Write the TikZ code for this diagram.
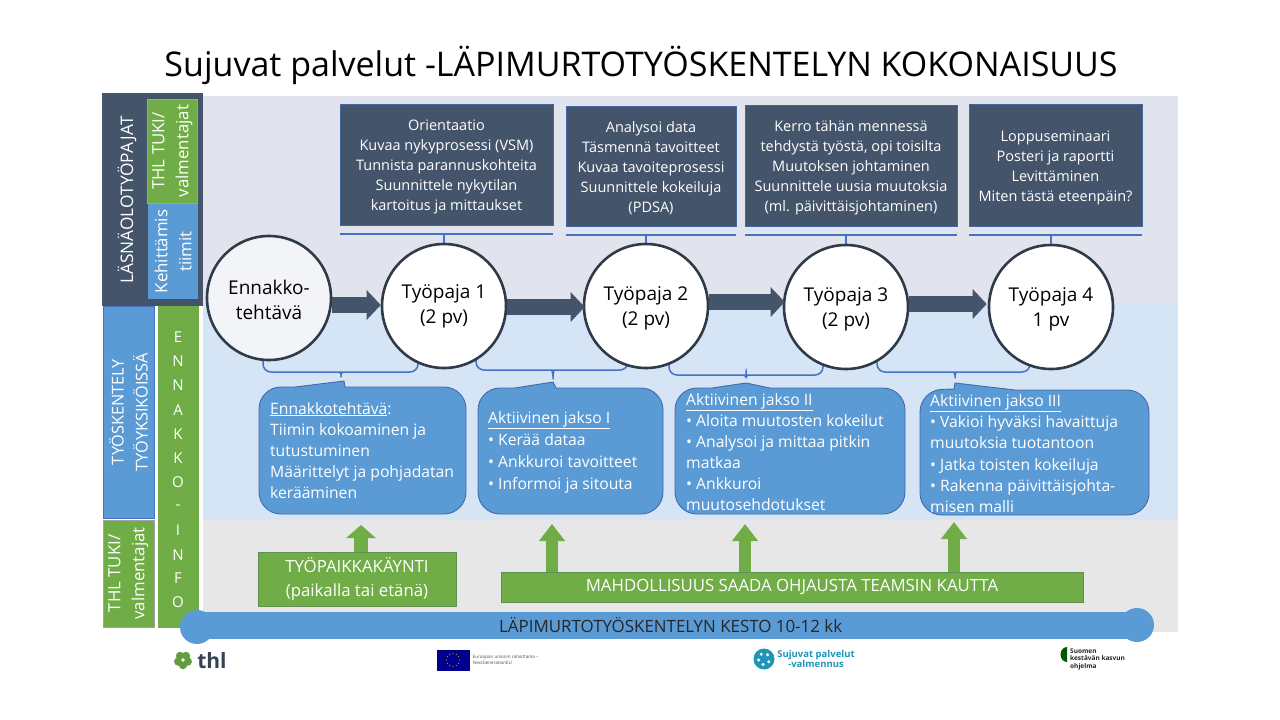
\documentclass[tikz,border=0pt]{standalone}
\usepackage{fontspec}
\setmainfont{Open Sans}
\usetikzlibrary{arrows.meta,positioning}
\definecolor{darkslate}{HTML}{44546A}
\definecolor{midblue}{HTML}{5B9BD5}
\definecolor{linkblue}{HTML}{4472C4}
\definecolor{leaf}{HTML}{70AD47}
\definecolor{palegrey}{HTML}{E1E4EC}
\definecolor{paleblue}{HTML}{D6E5F5}
\definecolor{lightgrey}{HTML}{E7E7E7}
\definecolor{sujuteal}{HTML}{1E96B8}
\newcommand{\bracket}[5]{\draw[brace] (#1,350) |- (#4-8,#3) .. controls (#4-2,#3) and (#4,#3+3) .. (#4,#5) .. controls (#4,#3+3) and (#4+2,#3) .. (#4+8,#3) -| (#2,350);}
\newcommand{\lowerws}[1]{\rule{0pt}{#1pt}}
\tikzset{
  sidebox/.style={text=white,align=center,anchor=center,inner sep=0,font=\fontsize{16.8}{24}\selectfont},
  topbox/.style={fill=darkslate,draw=linkblue!60!darkslate,line width=.6,text=white,align=center,inner sep=0,font=\fontsize{14.5}{20}\selectfont},
  ws/.style={circle,draw=darkslate!70!black,line width=2.6,fill=white,minimum size=124,inner sep=0,align=center,font=\fontsize{19}{25}\selectfont},
  flowline/.style={draw=darkslate,line width=16,-{Triangle[length=14pt,width=29pt]}},
  upline/.style={draw=leaf,line width=12,-{Triangle[length=17pt,width=25pt]}},
  callout/.style={fill=midblue,draw=linkblue!70!darkslate,line width=.9},
  calltext/.style={text=white,align=left,anchor=north west,inner sep=0,font=\fontsize{15.7}{#1}\selectfont},
  brace/.style={draw=linkblue,line width=1.5,rounded corners=8},
  rule/.style={draw=linkblue,line width=1.2},
  greenbox/.style={fill=leaf,draw=leaf!65!darkslate,line width=.8,text=white,align=center,inner sep=0,font=\fontsize{16.8}{24}\selectfont},
}
\begin{document}
\begin{tikzpicture}[x=1pt,y=-1pt]
  \useasboundingbox[fill=white] (0,0) rectangle (1280,720);

  \node[font=\fontsize{34}{40}\selectfont] (title) at (641,65) {Sujuvat palvelut -LÄPIMURTOTYÖSKENTELYN KOKONAISUUS};

  % bands
  \fill[palegrey] (203,96) rectangle (1178,303);
  \fill[paleblue] (203,303) rectangle (1178,520);
  \fill[lightgrey] (203,520) rectangle (1178,632);

  % left column
  \node[fill=darkslate,minimum width=101,minimum height=213,inner sep=0] (side) at (152.5,199.5) {};
  \node[sidebox,rotate=90,font=\fontsize{17.3}{24}\selectfont] (lasna) at (127,200) {LÄSNÄOLOTYÖPAJAT};
  \node[sidebox,fill=leaf,draw=lightgrey!70!black,line width=.6,minimum width=104,minimum height=50,rotate=90] (thlA) at (172.5,151) {THL TUKI/\\valmentajat};
  \node[sidebox,fill=midblue,minimum width=95,minimum height=50,rotate=90] (kehit) at (173,251.5) {Kehittämis\\tiimit};
  \node[sidebox,fill=midblue,draw=linkblue,line width=.6,minimum width=212,minimum height=51,rotate=90,font=\fontsize{16.3}{24}\selectfont] (tyosk) at (128.5,412) {TYÖSKENTELY\\TYÖYKSIKÖISSÄ};
  \node[sidebox,fill=leaf,draw=lightgrey!70!black,line width=.6,minimum width=107,minimum height=51,rotate=90] (thlB) at (128.5,573.5) {THL TUKI/\\valmentajat};
  \node[fill=leaf,minimum width=41,minimum height=322,inner sep=0] (info) at (178.5,467) {};
  \foreach \ch/\yy in {E/337,N/361,N/385,A/410,K/434,K/458,O/482,-/507,I/530,N/555,F/578,O/602}
    \node[text=white,font=\fontsize{15}{16}\selectfont] (info\yy) at (178,\yy) {\ch};

  % info boxes
  \node[topbox,minimum width=213,minimum height=121] (boxA) at (446.5,164.5) {\lowerws{16}Orientaatio\\Kuvaa nykyprosessi (VSM)\\Tunnista parannuskohteita\\Suunnittele nykytilan\\kartoitus ja mittaukset};
  \node[topbox,minimum width=170,minimum height=120] (boxB) at (651,166) {\lowerws{16}Analysoi data\\Täsmennä tavoitteet\\Kuvaa tavoiteprosessi\\Suunnittele kokeiluja\\(PDSA)};
  \node[topbox,minimum width=212,minimum height=121] (boxC) at (851,165.5) {\lowerws{16}Kerro tähän mennessä\\tehdystä työstä, opi toisilta\\Muutoksen johtaminen\\Suunnittele uusia muutoksia\\(ml. päivittäisjohtaminen)};
  \node[topbox,minimum width=173,minimum height=122] (boxD) at (1055.5,165) {\lowerws{16}Loppuseminaari\\Posteri ja raportti\\Levittäminen\\Miten tästä eteenpäin?};

  % braces, their ends go under the circles
  \bracket{263}{418}{372}{341}{382}
  \bracket{476}{628}{370}{553}{384}
  \bracket{669}{823}{375}{746}{383}
  \bracket{877}{1030}{372}{955}{383}

  % workshops
  \node[ws,fill=palegrey!40!white] (pre) at (269,298) {\lowerws{19}Ennakko-\\tehtävä};
  \node[ws] (ws1) at (444,306) {Työpaja 1\\(2 pv)};
  \node[ws] (ws2) at (646,306) {\lowerws{19}Työpaja 2\\(2 pv)};
  \node[ws] (ws3) at (846,307) {\lowerws{19}Työpaja 3\\(2 pv)};
  \node[ws] (ws4) at (1051,307) {\lowerws{19}Työpaja 4\\1 pv};

  % rules from the boxes to the workshops
  \draw[rule] (340,234) -- (553,234) (ws1.north |- 0,234) -- (ws1.north);
  \draw[rule] (566,235) -- (736,235) (ws2.north |- 0,235) -- (ws2.north);
  \draw[rule] (745,235) -- (957,235) (ws3.north |- 0,235) -- (ws3.north);
  \draw[rule] (969,235) -- (1142,235) (ws4.north |- 0,235) -- (ws4.north);

  % flow arrows
  \draw[flowline] (pre.east |- 0,305) -- (ws1.west |- 0,305);
  \draw[flowline] (ws1.east |- 0,307) -- ([xshift=2]ws2.west |- 0,307);
  \draw[flowline] (ws2.east |- 0,302) -- ([xshift=2]ws3.west |- 0,302);
  \draw[flowline] (ws3.east |- 0,304) -- ([xshift=-1]ws4.west |- 0,304);

  % callouts
  \draw[callout] (295,387) -- (344,381) -- (345,387) [rounded corners=22] -- (466,387) -- (466,514) -- (259,514) -- (259,387) -- (295,387);
  \draw[callout] (515,388) -- (553,382) -- (556,388) [rounded corners=22] -- (663,388) -- (663,514) -- (478,514) -- (478,388) -- (515,388);
  \draw[callout] (712,388) -- (746,383) -- (770,388) [rounded corners=22] -- (905,388) -- (905,514) -- (675,514) -- (675,388) -- (712,388);
  \draw[callout] (954,389) -- (955,383) -- (1015,390) [rounded corners=22] -- (1149,390) -- (1149,515) -- (920,515) -- (920,390) -- (954,389);

  % callout texts
  \node[calltext=21] (textA) at (270,402) {\underline{Ennakkotehtävä}:\\Tiimin kokoaminen ja\\tutustuminen\\Määrittelyt ja pohjadatan\\kerääminen};
  \node[calltext=22] (textB) at (488,411) {\underline{Aktiivinen jakso I}\\• Kerää dataa\\• Ankkuroi tavoitteet\\• Informoi ja sitouta};
  \node[calltext=21] (textC) at (686,393) {\underline{Aktiivinen jakso II}\\• Aloita muutosten kokeilut\\• Analysoi ja mittaa pitkin\\matkaa\\• Ankkuroi\\muutosehdotukset};
  \node[calltext=21.3] (textD) at (930,394) {\underline{Aktiivinen jakso III}\\• Vakioi hyväksi havaittuja\\muutoksia tuotantoon\\• Jatka toisten kokeiluja\\• Rakenna päivittäisjohta-\\misen malli};

  % bottom row
  \node[greenbox,minimum width=198,minimum height=54] (visit) at (357,579) {TYÖPAIKKAKÄYNTI\\(paikalla tai etänä)};
  \node[greenbox,minimum width=582,minimum height=30] (teams) at (792,587) {MAHDOLLISUUS SAADA OHJAUSTA TEAMSIN KAUTTA};
  \coordinate (upA) at (361,525);
  \coordinate (upB) at (552,524);
  \coordinate (upC) at (745,524);
  \coordinate (upD) at (954,522);
  \draw[upline,line width=14,-{Triangle[length=13pt,width=29pt]}] (visit.north -| upA) -- (upA);
  \foreach \name in {upB,upC,upD}
    \draw[upline] (teams.north -| \name) -- (\name);

  % duration bar
  \fill[midblue] (197,627) circle (17);
  \fill[midblue] (1137,625) circle (17);
  \fill[midblue] (197,612) rectangle (1137,639);
  \node[inner sep=0,font=\fontsize{16.9}{18}\selectfont,text=black!85,anchor=west] (bar) at (499,625.5) {LÄPIMURTOTYÖSKENTELYN KESTO 10-12 kk};

  % logos
  \node[font=\bfseries\fontsize{21}{24}\selectfont,text=darkslate!80!black] (thl) at (212,661) {thl};
  \foreach \ang in {90,162,234,306,18}
    \fill[leaf!90!black] (183,660) ++(\ang:5) circle (4.2);
  \fill[white] (183,660) circle (1.8);
  \node[fill=blue!55!black,minimum width=33,minimum height=21,inner sep=0] (eu) at (453,660) {};
  \foreach \ang in {0,30,...,330}
    \fill[yellow!80!orange] (eu.center) ++(\ang:6.5) circle (.5);
  \node[right=3 of eu,align=left,inner sep=0,font=\fontsize{4.5}{6}\selectfont,text=black!70] (eutext) {Euroopan unionin rahoittama –\\NextGenerationEU};
  \fill[sujuteal] (764,659) circle (10.5);
  \foreach \ang in {30,100,170,240,310}
    \fill[white] (764,659) ++(\ang:5.5) circle (1.7);
  \node[align=center,inner sep=0,font=\bfseries\fontsize{9.5}{9}\selectfont,text=sujuteal] (sujuvat) at (816,659) {Sujuvat palvelut\\-valmennus};
  \fill[green!35!black] (1067,647) arc (270:90:6.5 and 7.5) -- cycle;
  \node[align=left,inner sep=0,font=\bfseries\fontsize{6.5}{7.5}\selectfont,text=black!85,anchor=west] (suomen) at (1070,659) {Suomen\\kestävän kasvun\\ohjelma};
\end{tikzpicture}
\end{document}
